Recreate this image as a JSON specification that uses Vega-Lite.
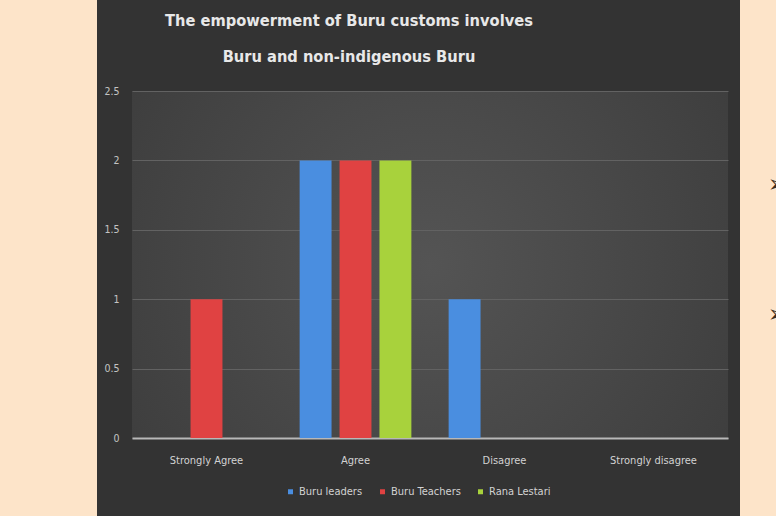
{
  "$schema": "https://vega.github.io/schema/vega-lite/v6.json",
  "background": "#333333",
  "padding": 0,
  "autosize": {"type": "pad"},
  "spacing": 0,
  "config": {
    "view": {"stroke": null},
    "font": "DejaVu Sans Condensed, sans-serif"
  },
  "hconcat": [
    {
      "width": 97,
      "height": 516,
      "view": {"fill": "#fde4c9", "stroke": null},
      "data": {"values": [{"a": 1}]},
      "mark": {"type": "rect", "color": "#fde4c9"},
      "encoding": {}
    },
    {
      "spacing": 0,
      "vconcat": [
        {
          "width": 608,
          "height": 86,
          "data": {"values": [{"t": "The empowerment of Buru customs involves\nBuru and non-indigenous Buru"}]},
          "mark": {
            "type": "text",
            "lineBreak": "\n",
            "align": "center",
            "baseline": "middle",
            "font": "DejaVu Sans Condensed",
            "fontSize": 16.3,
            "fontWeight": "bold",
            "lineHeight": 36,
            "color": "#e8e8e8",
            "dx": -87,
            "dy": -22
          },
          "encoding": {"text": {"field": "t"}}
        },
        {
          "width": 596,
          "height": 347,
          "view": {
            "stroke": null,
            "fill": {
              "gradient": "radial",
              "x1": 0.5, "y1": 0.5, "r1": 0,
              "x2": 0.5, "y2": 0.5, "r2": 0.8,
              "stops": [
                {"offset": 0, "color": "#545454"},
                {"offset": 1, "color": "#363636"}
              ]
            }
          },
          "data": {
            "values": [
              {"category": "Strongly Agree", "series": "Buru leaders", "value": 0},
              {"category": "Strongly Agree", "series": "Buru Teachers", "value": 1},
              {"category": "Strongly Agree", "series": "Rana Lestari", "value": 0},
              {"category": "Agree", "series": "Buru leaders", "value": 2},
              {"category": "Agree", "series": "Buru Teachers", "value": 2},
              {"category": "Agree", "series": "Rana Lestari", "value": 2},
              {"category": "Disagree", "series": "Buru leaders", "value": 1},
              {"category": "Disagree", "series": "Buru Teachers", "value": 0},
              {"category": "Disagree", "series": "Rana Lestari", "value": 0},
              {"category": "Strongly disagree", "series": "Buru leaders", "value": 0},
              {"category": "Strongly disagree", "series": "Buru Teachers", "value": 0},
              {"category": "Strongly disagree", "series": "Rana Lestari", "value": 0}
            ]
          },
          "mark": {"type": "bar"},
          "encoding": {
            "x": {
              "field": "category",
              "type": "nominal",
              "sort": ["Strongly Agree", "Agree", "Disagree", "Strongly disagree"],
              "scale": {"paddingInner": 0.25, "paddingOuter": 0.125},
              "axis": {
                "title": null,
                "labelAngle": 0,
                "labelColor": "#d2d2d2",
                "labelFontSize": 11,
                "labelPadding": 16,
                "ticks": false,
                "domainColor": "#b8b8b8",
                "domainWidth": 2
              }
            },
            "xOffset": {
              "field": "series",
              "sort": ["Buru leaders", "Buru Teachers", "Rana Lestari"],
              "scale": {"paddingInner": 0.2}
            },
            "y": {
              "field": "value",
              "type": "quantitative",
              "scale": {"domain": [0, 2.5]},
              "axis": {
                "title": null,
                "values": [0, 0.5, 1, 1.5, 2, 2.5],
                "format": "~g",
                "labelColor": "#c4c4c4",
                "labelFontSize": 10.5,
                "labelPadding": 13,
                "domain": false,
                "ticks": false,
                "gridColor": "#626262",
                "gridWidth": 1,
                "minExtent": 35,
                "maxExtent": 35
              }
            },
            "color": {
              "field": "series",
              "type": "nominal",
              "sort": ["Buru leaders", "Buru Teachers", "Rana Lestari"],
              "scale": {"range": ["#4a8ee0", "#e04242", "#a8d23c"]},
              "legend": {
                "title": null,
                "orient": "none",
                "legendX": 285,
                "legendY": 486,
                "direction": "horizontal",
                "symbolType": "square",
                "symbolSize": 25,
                "symbolStrokeWidth": 0,
                "labelColor": "#d2d2d2",
                "labelFontSize": 11,
                "labelOffset": 3,
                "columnPadding": 14
              }
            }
          }
        }
      ]
    },
    {
      "width": 36,
      "height": 516,
      "view": {"fill": "#fde4c9", "stroke": null},
      "layer": [
        {
          "data": {"values": [{"a": 1}]},
          "mark": {"type": "rect", "color": "#fde4c9"},
          "encoding": {}
        },
        {
          "data": {"values": [{"pos": 0.3585, "glyph": "➢"}, {"pos": 0.6105, "glyph": "➢"}]},
          "mark": {"type": "text", "align": "left", "baseline": "middle", "dx": 10, "fontSize": 24, "color": "#3a2c20", "clip": true},
          "encoding": {
            "y": {"field": "pos", "type": "quantitative", "scale": {"domain": [0, 1], "reverse": true}, "axis": null},
            "text": {"field": "glyph"}
          }
        }
      ]
    }
  ]
}
